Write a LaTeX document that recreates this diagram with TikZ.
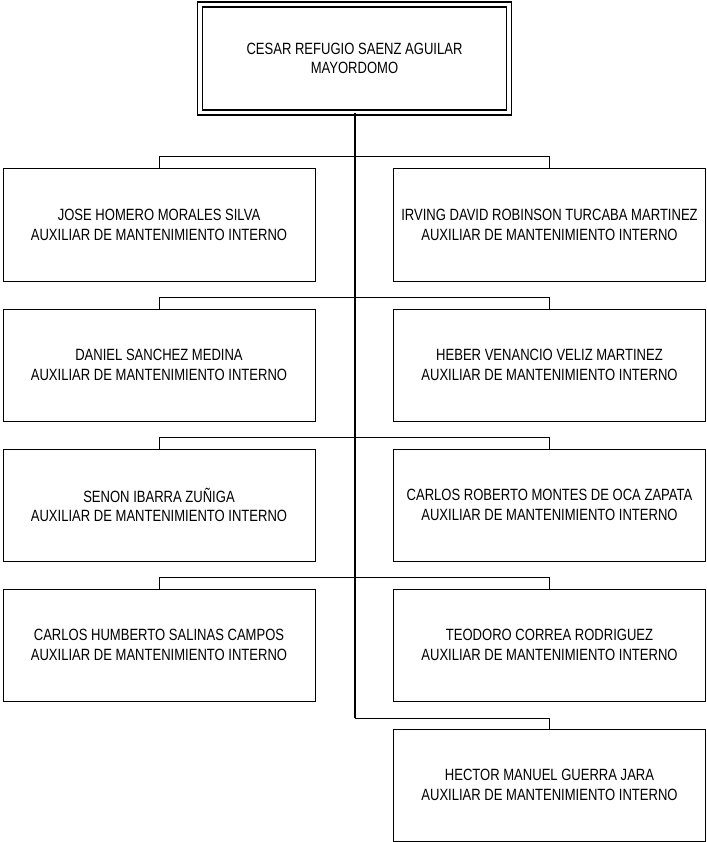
\documentclass[tikz,border=0pt]{standalone}
\usepackage{fontspec}
\setmainfont{Liberation Sans}[FakeStretch=0.80]
\begin{document}
\begin{tikzpicture}[x=1pt,y=-1pt,
  person/.style={draw,line width=1pt,minimum width=312pt,minimum height=112pt,
    align=center,inner sep=0pt,font=\fontsize{16.3}{19.5}\selectfont},
  chief/.style={draw,line width=1.3pt,double,double distance=3.6pt,
    minimum width=309pt,minimum height=108pt,align=center,inner sep=0pt,
    font=\fontsize{16.3}{19.5}\selectfont},
  bus/.style={line width=1pt},
  trunk/.style={line width=2pt}]
\useasboundingbox (0,0) rectangle (706,842);
\node[chief] (top) at (354.5,58.5) {CESAR REFUGIO SAENZ AGUILAR\\MAYORDOMO};
\node[person] (L1) at (159,225) {JOSE HOMERO MORALES SILVA\\AUXILIAR DE MANTENIMIENTO INTERNO};
\node[person] (R1) at (549.5,225) {IRVING DAVID ROBINSON TURCABA MARTINEZ\\AUXILIAR DE MANTENIMIENTO INTERNO};
\node[person] (L2) at (159,365) {DANIEL SANCHEZ MEDINA\\AUXILIAR DE MANTENIMIENTO INTERNO};
\node[person] (R2) at (549.5,365) {HEBER VENANCIO VELIZ MARTINEZ\\AUXILIAR DE MANTENIMIENTO INTERNO};
\node[person] (L3) at (159,505) {SENON IBARRA ZUÑIGA\\AUXILIAR DE MANTENIMIENTO INTERNO};
\node[person] (R3) at (549.5,505) {CARLOS ROBERTO MONTES DE OCA ZAPATA\\AUXILIAR DE MANTENIMIENTO INTERNO};
\node[person] (L4) at (159,645) {CARLOS HUMBERTO SALINAS CAMPOS\\AUXILIAR DE MANTENIMIENTO INTERNO};
\node[person] (R4) at (549.5,645) {TEODORO CORREA RODRIGUEZ\\AUXILIAR DE MANTENIMIENTO INTERNO};
\node[person] (R5) at (549.5,785) {HECTOR MANUEL GUERRA JARA\\AUXILIAR DE MANTENIMIENTO INTERNO};
\coordinate (tend) at (354.5,718);
\foreach \r in {1,2,3,4}{
  \draw[bus] (L\r.north) -- ++(0,-11.5) -| (R\r.north);
}
\draw[bus] (tend) -| (R5.north);
\draw[trunk] (top.south) -- (tend);
\end{tikzpicture}
\end{document}
